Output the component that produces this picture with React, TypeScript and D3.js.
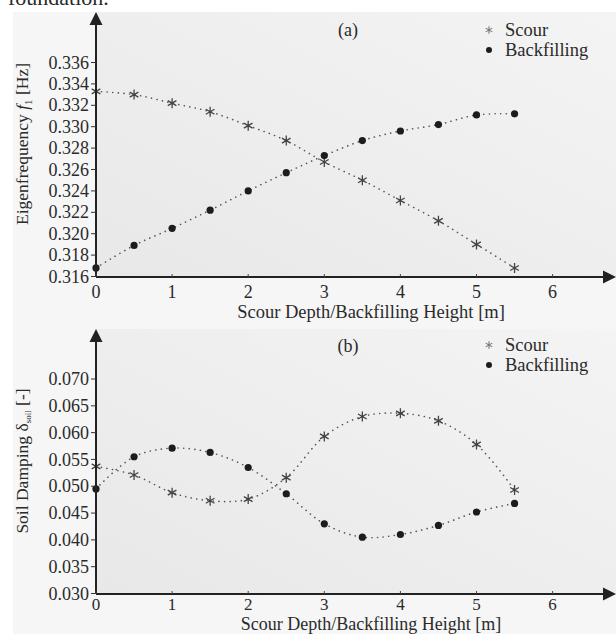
import React from "react";
import * as d3 from "d3";

const depths = [0, 0.5, 1, 1.5, 2, 2.5, 3, 3.5, 4, 4.5, 5, 5.5];
const freqScour = [0.3333, 0.3330, 0.3322, 0.3314, 0.3301, 0.3287, 0.3267, 0.3250, 0.3231, 0.3212, 0.3190, 0.3168];
const freqBackfill = [0.3168, 0.3189, 0.3205, 0.3222, 0.3240, 0.3257, 0.3273, 0.3287, 0.3296, 0.3302, 0.3311, 0.3312];
const dampScour = [0.0537, 0.0521, 0.0488, 0.0473, 0.0476, 0.0516, 0.0593, 0.0630, 0.0636, 0.0622, 0.0578, 0.0493];
const dampBackfill = [0.0495, 0.0555, 0.0571, 0.0563, 0.0535, 0.0486, 0.0430, 0.0405, 0.0410, 0.0427, 0.0452, 0.0468];
const xTicks = [0, 1, 2, 3, 4, 5, 6];
const yTicksA = [0.316, 0.318, 0.32, 0.322, 0.324, 0.326, 0.328, 0.33, 0.332, 0.334, 0.336];
const yTicksB = [0.03, 0.035, 0.04, 0.045, 0.05, 0.055, 0.06, 0.065, 0.07];
const seriesNames = ["Scour", "Backfilling"];
const xLabel = "Scour Depth/Backfilling Height [m]";

const FONT = "'Liberation Serif', 'Times New Roman', serif";
const TXT = "#2a2a2a";

const x = d3.scaleLinear().domain([0, 6]).range([96, 552.6]);

type PanelProps = {
  yScale: d3.ScaleLinear<number, number>;
  yTicks: number[];
  fmt: (v: number) => string;
  scour: number[];
  back: number[];
  top: number;
  axisY: number;
  tag: string;
  tagY: number;
  legendY: number;
  tickLabelY: number;
  tickFont: number;
  xLabelY: number;
  xLabelFont: number;
  yLabel: React.ReactNode;
  yLabelCenter: number;
  gradId: string;
};

const asterisk = d3.symbol().type(d3.symbolAsterisk).size(70);
const legendAsterisk = d3.symbol().type(d3.symbolAsterisk).size(40);

function Panel(p: PanelProps) {
  const line = d3
    .line<number>()
    .x((_, i) => x(depths[i]))
    .y((d) => p.yScale(d))
    .curve(d3.curveCatmullRom.alpha(0.5));
  const x0 = x(0);
  return (
    <g>
      <rect x={x0} y={p.top} width={616 - x0} height={p.axisY - p.top} fill={`url(#${p.gradId})`} />
      <path d={line(p.scour) || ""} fill="none" stroke="#555" strokeWidth={1.6} strokeDasharray="0.1 5.5" strokeLinecap="round" />
      <path d={line(p.back) || ""} fill="none" stroke="#555" strokeWidth={1.6} strokeDasharray="0.1 5.5" strokeLinecap="round" />
      {p.scour.map((v, i) => (
        <path key={"s" + i} d={asterisk() || ""} transform={`translate(${x(depths[i])},${p.yScale(v)})`} fill="none" stroke="#444" strokeWidth={1.3} />
      ))}
      {p.back.map((v, i) => (
        <circle key={"b" + i} cx={x(depths[i])} cy={p.yScale(v)} r={3.6} fill="#1c1c1c" />
      ))}
      <line x1={x0} x2={x0} y1={p.axisY} y2={p.top + 10} stroke="#222" strokeWidth={2} />
      <path d={`M${x0},${p.top} L${x0 - 6.5},${p.top + 13} L${x0 + 6.5},${p.top + 13} Z`} fill="#222" />
      {p.yTicks.map((t) => (
        <g key={t}>
          <line x1={x0 - 5} x2={x0} y1={p.yScale(t)} y2={p.yScale(t)} stroke="#333" strokeWidth={1} />
          <text x={89} y={p.yScale(t)} dy="0.34em" textAnchor="end" fontSize={18} fill={TXT} fontFamily={FONT}>
            {p.fmt(t)}
          </text>
        </g>
      ))}
      <line x1={x0} x2={606} y1={p.axisY} y2={p.axisY} stroke="#222" strokeWidth={2} />
      <path d={`M616,${p.axisY} L603,${p.axisY - 6.5} L603,${p.axisY + 6.5} Z`} fill="#222" />
      {xTicks.map((t) => (
        <g key={t}>
          <line x1={x(t)} x2={x(t)} y1={p.axisY} y2={p.axisY - 3} stroke="#444" strokeWidth={1} />
          <text x={x(t)} y={p.tickLabelY} textAnchor="middle" fontSize={p.tickFont} fill={TXT} fontFamily={FONT}>
            {t}
          </text>
        </g>
      ))}
      <text x={371} y={p.xLabelY} textAnchor="middle" fontSize={p.xLabelFont} fill={TXT} fontFamily={FONT}>
        {xLabel}
      </text>
      <text transform={`translate(28,${p.yLabelCenter}) rotate(-90)`} textAnchor="middle" fontSize={17.5} fill={TXT} fontFamily={FONT}>
        {p.yLabel}
      </text>
      <text x={348} y={p.tagY} textAnchor="middle" fontSize={18} fill={TXT} fontFamily={FONT}>
        {p.tag}
      </text>
      <path d={legendAsterisk() || ""} transform={`translate(489,${p.legendY})`} fill="none" stroke="#777" strokeWidth={1.1} />
      <circle cx={489} cy={p.legendY + 20} r={3} fill="#1c1c1c" />
      <text x={505} y={p.legendY + 6} fontSize={18.5} fill={TXT} fontFamily={FONT}>
        {seriesNames[0]}
      </text>
      <text x={505} y={p.legendY + 26} fontSize={18.5} fill={TXT} fontFamily={FONT}>
        {seriesNames[1]}
      </text>
    </g>
  );
}

export default function App() {
  const yA = d3.scaleLinear().domain([0.316, 0.336]).range([276.5, 62.5]);
  const yB = d3.scaleLinear().domain([0.03, 0.07]).range([593.5, 379]);
  return (
    <svg width={616} height={634} style={{ position: "absolute", left: 0, top: 0, background: "#fff" }}>
      <defs>
        <linearGradient id="gA" x1="0" y1="1" x2="1" y2="0">
          <stop offset="0" stopColor="#e8e8e8" />
          <stop offset="1" stopColor="#f4f4f4" />
        </linearGradient>
        <linearGradient id="gB" x1="0" y1="1" x2="1" y2="0">
          <stop offset="0" stopColor="#e8e8e8" />
          <stop offset="1" stopColor="#f4f4f4" />
        </linearGradient>
      </defs>
      <rect x={13} y={12} width={603} height={622} fill="#f6f6f6" />
      <text x={8} y={5} fontSize={22} fill={TXT} fontFamily={FONT}>
        foundation.
      </text>
      <Panel
        yScale={yA}
        yTicks={yTicksA}
        fmt={d3.format(".3f")}
        scour={freqScour}
        back={freqBackfill}
        top={12}
        axisY={277}
        tag="(a)"
        tagY={36}
        legendY={30}
        tickLabelY={298}
        tickFont={18}
        xLabelY={318}
        xLabelFont={18.5}
        yLabel={
          <>
            Eigenfrequency <tspan fontStyle="italic">f</tspan>
            <tspan fontSize={11} dy={4}>1</tspan>
            <tspan dy={-4}> [Hz]</tspan>
          </>
        }
        yLabelCenter={144}
        gradId="gA"
      />
      <Panel
        yScale={yB}
        yTicks={yTicksB}
        fmt={d3.format(".3f")}
        scour={dampScour}
        back={dampBackfill}
        top={329}
        axisY={594}
        tag="(b)"
        tagY={352}
        legendY={345}
        tickLabelY={609.5}
        tickFont={17}
        xLabelY={630}
        xLabelFont={18}
        yLabel={
          <>
            Soil Damping δ
            <tspan fontSize={9} dy={3}>soil</tspan>
            <tspan dy={-3}> [-]</tspan>
          </>
        }
        yLabelCenter={461}
        gradId="gB"
      />
    </svg>
  );
}
